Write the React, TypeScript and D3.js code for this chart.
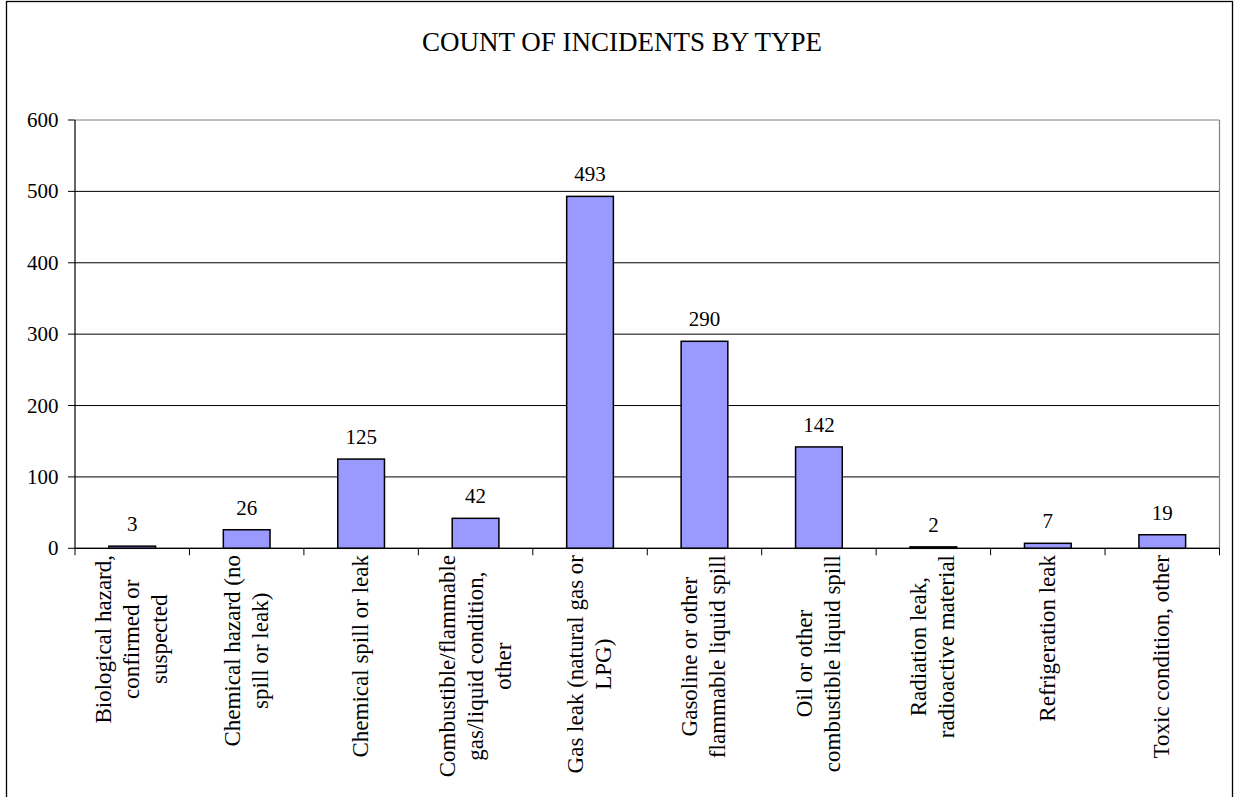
import React, { useMemo } from "react";
import * as d3 from "d3";

const TITLE = "COUNT OF INCIDENTS BY TYPE";
const categories: string[][] = [
  ["Biological hazard,", "confirmed or", "suspected"],
  ["Chemical hazard (no", "spill or leak)"],
  ["Chemical spill or leak"],
  ["Combustible/flammable", "gas/liquid condition,", "other"],
  ["Gas leak (natural gas or", "LPG)"],
  ["Gasoline or other", "flammable liquid spill"],
  ["Oil or other", "combustible liquid spill"],
  ["Radiation leak,", "radioactive material"],
  ["Refrigeration leak"],
  ["Toxic condition, other"],
];
const counts: number[] = [3, 26, 125, 42, 493, 290, 142, 2, 7, 19];
const yTicks: number[] = [0, 100, 200, 300, 400, 500, 600];

const FONT = "'Liberation Serif', 'Times New Roman', serif";

export default function App() {
  const W = 1235;
  const H = 797;
  const left = 75;
  const right = 1219.5;
  const top = 120;
  const bottom = 548.3;

  const keys = categories.map((c) => c.join(" "));
  const band = d3.scaleBand<string>().domain(keys).range([left, right]).padding(0);
  const y = d3.scaleLinear().domain([0, 600]).range([bottom, top]);
  const barW = band.bandwidth() * 0.408;

  const catFont = 23;
  const widths = useMemo(() => {
    const cv = document.createElement("canvas");
    const ctx = cv.getContext("2d")!;
    ctx.font = `${catFont}px ${FONT}`;
    return categories.map((lines) => Math.max(...lines.map((l) => ctx.measureText(l).width)));
  }, []);

  const boundaries = keys.map((k) => band(k)!).concat([right]);

  return (
    <svg
      width={W}
      height={H}
      style={{ position: "absolute", left: 0, top: 0, background: "#fff" }}
      fontFamily={FONT}
    >
      <rect x={6.5} y={1.5} width={1226} height={830} fill="#fff" stroke="#000" strokeWidth={1.3} />
      <text x={622} y={51} textAnchor="middle" fontSize={27} fill="#000">
        {TITLE}
      </text>
      {/* gridlines */}
      {yTicks.map((t) => (
        <line
          key={"g" + t}
          x1={left}
          x2={right}
          y1={y(t)}
          y2={y(t)}
          stroke={t === 600 ? "#808080" : "#000"}
          strokeWidth={1}
        />
      ))}
      {/* plot right border */}
      <line x1={right} x2={right} y1={top} y2={bottom} stroke="#808080" strokeWidth={1.2} />
      {/* y axis */}
      <line x1={left} x2={left} y1={top} y2={bottom} stroke="#000" strokeWidth={1.2} />
      {yTicks.map((t) => (
        <g key={"yt" + t}>
          <line x1={left - 7} x2={left} y1={y(t)} y2={y(t)} stroke="#000" strokeWidth={1} />
          <text x={58.5} y={y(t) + 7} textAnchor="end" fontSize={21} fill="#000">
            {t}
          </text>
        </g>
      ))}
      {/* bars */}
      {counts.map((v, i) => {
        const cx = band(keys[i])! + band.bandwidth() / 2;
        return (
          <g key={"b" + i}>
            <rect
              x={cx - barW / 2}
              y={y(v)}
              width={barW}
              height={bottom - y(v)}
              fill="#9999FF"
              stroke="#000"
              strokeWidth={1.5}
            />
            <text x={cx} y={y(v) - 15} textAnchor="middle" fontSize={21} fill="#000">
              {v}
            </text>
          </g>
        );
      })}
      {/* x axis */}
      <line x1={left} x2={right} y1={bottom} y2={bottom} stroke="#000" strokeWidth={1.2} />
      {boundaries.map((bx, i) => (
        <line key={"xt" + i} x1={bx} x2={bx} y1={bottom} y2={bottom + 7} stroke="#000" strokeWidth={1} />
      ))}
      {/* category labels */}
      {categories.map((lines, i) => {
        const cx = band(keys[i])! + band.bandwidth() / 2;
        const cy = 555 + widths[i] / 2;
        const n = lines.length;
        return (
          <text
            key={"c" + i}
            transform={`translate(${cx},${cy}) rotate(-90)`}
            textAnchor="middle"
            fontSize={catFont}
            fill="#000"
          >
            {lines.map((l, j) => (
              <tspan key={j} x={0} y={7 + (j - (n - 1) / 2) * 28}>
                {l}
              </tspan>
            ))}
          </text>
        );
      })}
    </svg>
  );
}
